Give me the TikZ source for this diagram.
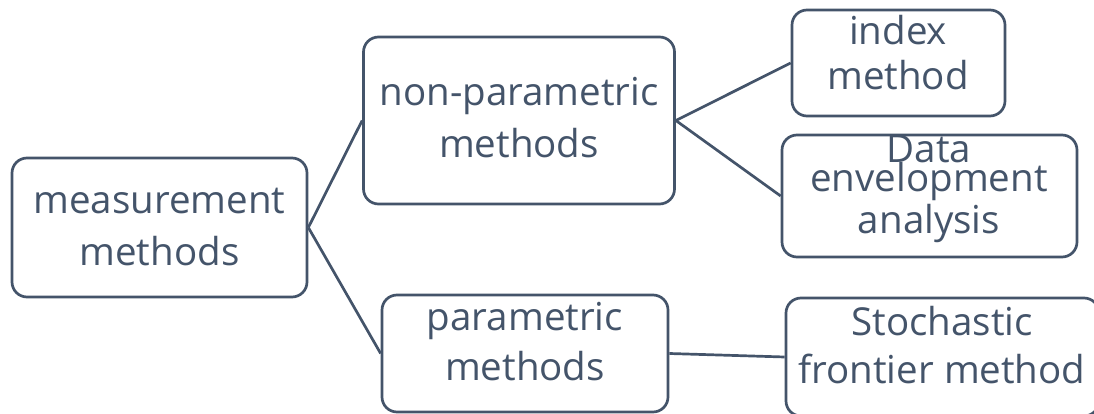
\documentclass[tikz,border=0pt]{standalone}
\usepackage{fontspec}
\setmainfont{Open Sans}
\definecolor{ink}{HTML}{44546A}
\begin{document}
\begin{tikzpicture}[x=1pt,y=-1pt,
  box/.style={draw=ink, line width=2.7pt, rounded corners=15pt, inner sep=0pt, fill=white},
  lbl/.style={anchor=base, inner sep=0pt, text=ink, font=\fontsize{38.5}{47}\selectfont},
  link/.style={draw=ink, line width=2.7pt}]
\useasboundingbox (0,0) rectangle (1094,414);
\clip (0,0) rectangle (1094,414);
% boxes
\node[box, minimum width=295pt, minimum height=139pt] (meas) at (159.5,227.5) {};
\node[box, minimum width=311pt, minimum height=167pt] (nonp) at (519,120.5) {};
\node[box, minimum width=213pt, minimum height=106pt] (idx) at (898.5,63) {};
\node[box, minimum width=295pt, minimum height=122pt] (dea) at (929.5,196) {};
\node[box, minimum width=286pt, minimum height=117pt] (par) at (525,353.5) {};
\node[box, minimum width=313pt, minimum height=118pt] (sfa) at (942.5,357) {};
% connectors
\draw[link] (meas.east) -- (nonp.west);
\draw[link] (meas.east) -- (par.west);
\draw[link] (nonp.east) -- (idx.west);
\draw[link] (nonp.east) -- (dea.west);
\draw[link] (par.east) -- (sfa.west);
% texts
\node[lbl] (measA) at (159.5,213) {measurement};
\node[lbl] (measB) at (159.5,265) {methods};
\node[lbl] (nonpA) at (519,106) {non-parametric};
\node[lbl] (nonpB) at (519,158) {methods};
\node[lbl] (idxA) at (898,45) {index};
\node[lbl] (idxB) at (898,90) {method};
\node[lbl] (deaA) at (929,163) {Data};
\node[lbl] (deaB) at (929,191) {envelopment};
\node[lbl] (deaC) at (929,233) {analysis};
\node[lbl] (parA) at (525,330) {parametric};
\node[lbl] (parB) at (525,380) {methods};
\node[lbl] (sfaA) at (942,335) {Stochastic};
\node[lbl] (sfaB) at (942,383) {frontier method};
\end{tikzpicture}
\end{document}
